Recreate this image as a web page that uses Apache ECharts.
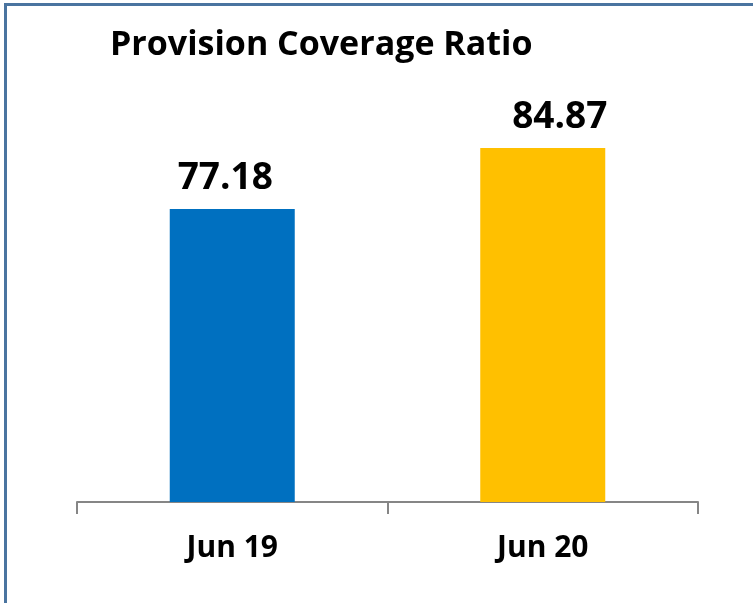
<!DOCTYPE html>
<html>
<head>
<meta charset="utf-8">
<script src="https://cdn.jsdelivr.net/npm/echarts@6/dist/echarts.min.js"></script>
<style>
html,body{margin:0;padding:0;background:#fff;}
#c{width:753px;height:603px;}
</style>
</head>
<body>
<div id="c"></div>
<script>
var categories = ['Jun 19', 'Jun 20'];
var values = [77.18, 84.87];
var barColors = ['#0070C0', '#FFC000'];
var labelOffsets = [[-7, 0], [17, 0]];
var titleText = 'Provision Coverage Ratio';

var FONT = 'Open Sans';
var chart = echarts.init(document.getElementById('c'), null, {renderer: 'canvas'});
chart.setOption({
  backgroundColor: '#ffffff',
  animation: false,
  title: {
    text: titleText,
    left: 105,
    top: 23,
    textStyle: {fontFamily: FONT, fontWeight: 'bold', fontSize: 34, color: '#000'}
  },
  graphic: [{
    type: 'rect',
    shape: {x: 5.5, y: 4.5, width: 900, height: 800},
    style: {fill: 'none', stroke: '#4A74A0', lineWidth: 3},
    silent: true, z: 100
  }],
  grid: {left: 77, right: 55, top: 26, bottom: 101, containLabel: false},
  xAxis: {
    type: 'category',
    data: categories,
    axisLine: {lineStyle: {color: '#868686', width: 2}},
    axisTick: {show: true, length: 12, lineStyle: {color: '#868686', width: 2}},
    axisLabel: {fontFamily: FONT, fontWeight: 'bold', fontSize: 30, color: '#000', margin: 31}
  },
  yAxis: {
    type: 'value', min: 40.24, max: 100.24,
    show: false, splitLine: {show: false}
  },
  series: [{
    type: 'bar',
    barWidth: 125,
    data: values.map(function (v, i) {
      return {
        value: v,
        itemStyle: {color: barColors[i]},
        label: {offset: labelOffsets[i]}
      };
    }),
    label: {
      show: true, position: 'top', distance: 12,
      fontFamily: FONT, fontWeight: 'bold', fontSize: 37, color: '#000',
      formatter: function (p) { return p.value.toFixed(2); }
    }
  }]
});
</script>
</body>
</html>
